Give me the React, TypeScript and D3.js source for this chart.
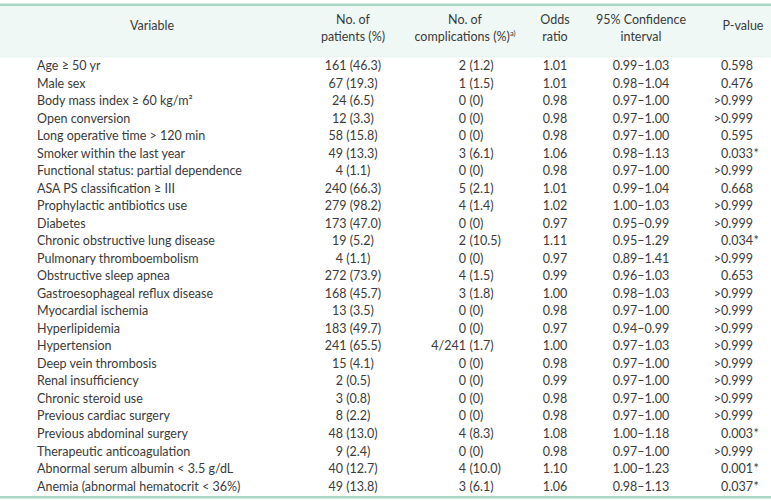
import React from "react";
import * as d3 from "d3";

const variables = [
  "Age ≥ 50 yr",
  "Male sex",
  "Body mass index ≥ 60 kg/m²",
  "Open conversion",
  "Long operative time > 120 min",
  "Smoker within the last year",
  "Functional status: partial dependence",
  "ASA PS classification ≥ III",
  "Prophylactic antibiotics use",
  "Diabetes",
  "Chronic obstructive lung disease",
  "Pulmonary thromboembolism",
  "Obstructive sleep apnea",
  "Gastroesophageal reflux disease",
  "Myocardial ischemia",
  "Hyperlipidemia",
  "Hypertension",
  "Deep vein thrombosis",
  "Renal insufficiency",
  "Chronic steroid use",
  "Previous cardiac surgery",
  "Previous abdominal surgery",
  "Therapeutic anticoagulation",
  "Abnormal serum albumin < 3.5 g/dL",
  "Anemia (abnormal hematocrit < 36%)",
];
const patients = [
  "161 (46.3)", "67 (19.3)", "24 (6.5)", "12 (3.3)", "58 (15.8)", "49 (13.3)", "4 (1.1)",
  "240 (66.3)", "279 (98.2)", "173 (47.0)", "19 (5.2)", "4 (1.1)", "272 (73.9)", "168 (45.7)",
  "13 (3.5)", "183 (49.7)", "241 (65.5)", "15 (4.1)", "2 (0.5)", "3 (0.8)", "8 (2.2)",
  "48 (13.0)", "9 (2.4)", "40 (12.7)", "49 (13.8)",
];
const complicationCounts = [
  "2", "1", "0", "0", "0", "3", "0", "5", "4", "0", "2", "0", "4", "3", "0", "0", "4/241",
  "0", "0", "0", "0", "4", "0", "4", "3",
];
const complicationPcts = [
  "(1.2)", "(1.5)", "(0)", "(0)", "(0)", "(6.1)", "(0)", "(2.1)", "(1.4)", "(0)", "(10.5)", "(0)",
  "(1.5)", "(1.8)", "(0)", "(0)", "(1.7)", "(0)", "(0)", "(0)", "(0)", "(8.3)", "(0)", "(10.0)", "(6.1)",
];
const oddsRatios = [
  "1.01", "1.01", "0.98", "0.98", "0.98", "1.06", "0.98", "1.01", "1.02", "0.97", "1.11", "0.97",
  "0.99", "1.00", "0.98", "0.97", "1.00", "0.98", "0.99", "0.98", "0.98", "1.08", "0.98", "1.10", "1.06",
];
const confidenceIntervals = [
  "0.99–1.03", "0.98–1.04", "0.97–1.00", "0.97–1.00", "0.97–1.00", "0.98–1.13", "0.97–1.00",
  "0.99–1.04", "1.00–1.03", "0.95–0.99", "0.95–1.29", "0.89–1.41", "0.96–1.03", "0.98–1.03",
  "0.97–1.00", "0.94–0.99", "0.97–1.03", "0.97–1.00", "0.97–1.00", "0.97–1.00", "0.97–1.00",
  "1.00–1.18", "0.97–1.00", "1.00–1.23", "0.98–1.13",
];
const pValues = [
  "0.598", "0.476", ">0.999", ">0.999", "0.595", "0.033", ">0.999", "0.668", ">0.999", ">0.999",
  "0.034", ">0.999", "0.653", ">0.999", ">0.999", ">0.999", ">0.999", ">0.999", ">0.999",
  ">0.999", ">0.999", "0.003", ">0.999", "0.001", "0.037",
];
const significant = [
  false, false, false, false, false, true, false, false, false, false, true, false, false, false,
  false, false, false, false, false, false, false, true, false, true, true,
];

const W = 771;
const H = 501;
const FONT = "Lato, 'Open Sans', sans-serif";
const TEXT = "#3a3a3a";
const LINE = "#a9d7c6";
const HEADBG = "#eff8f5";

export default function App() {
  const rows = d3
    .scaleBand<number>()
    .domain(d3.range(variables.length))
    .range([57, 495])
    .paddingInner(0)
    .paddingOuter(0);
  const yc = (i: number) => (rows(i) as number) + rows.bandwidth() / 2;

  const colX = {
    variable: 37,
    variableHead: 152,
    patients: 353,
    compAnchor: 466,
    compHead: 465,
    odds: 555,
    ci: 641,
    pRight: 753,
    pHead: 743,
  };

  const fs = 12.5;

  return (
    <svg
      width={W}
      height={H}
      style={{ position: "absolute", left: 0, top: 0, background: "#fff" }}
      fontFamily={FONT}
      fontSize={fs}
      fill={TEXT}
    >
      <rect x={0} y={4} width={W} height={53} fill={HEADBG} />
      <rect x={0} y={3.5} width={W} height={2.5} fill={LINE} />
      <rect x={0} y={56.5} width={W} height={0.8} fill="#e3f1ec" />
      <rect x={0} y={496} width={W} height={2.5} fill={LINE} />

      {/* header */}
      <text x={colX.variableHead} y={30} textAnchor="middle">Variable</text>
      <text x={colX.patients} y={24} textAnchor="middle">No. of</text>
      <text x={colX.patients} y={41} textAnchor="middle">patients (%)</text>
      <text x={colX.compHead} y={24} textAnchor="middle">No. of</text>
      <text x={colX.compHead} y={41} textAnchor="middle">
        complications (%)
        <tspan fontSize={7.5} dy={-5}>a)</tspan>
      </text>
      <text x={colX.odds} y={24} textAnchor="middle">Odds</text>
      <text x={colX.odds} y={41} textAnchor="middle">ratio</text>
      <text x={colX.ci} y={24} textAnchor="middle">95% Confidence</text>
      <text x={colX.ci} y={41} textAnchor="middle">interval</text>
      <text x={colX.pHead} y={30} textAnchor="middle">P-value</text>

      {variables.map((v, i) => {
        const y = yc(i) + 4.3;
        return (
          <g key={i}>
            <text x={colX.variable} y={y}>{v}</text>
            <text x={colX.patients} y={y} textAnchor="middle">{patients[i]}</text>
            <text x={colX.compAnchor} y={y} textAnchor="end">{complicationCounts[i]}</text>
            <text x={colX.compAnchor + 3.5} y={y}>{complicationPcts[i]}</text>
            <text x={colX.odds} y={y} textAnchor="middle">{oddsRatios[i]}</text>
            <text x={colX.ci} y={y} textAnchor="middle">{confidenceIntervals[i]}</text>
            <text x={colX.pRight} y={y} textAnchor="end">{pValues[i]}</text>
            {significant[i] && <text x={colX.pRight + 0.5} y={y}>*</text>}
          </g>
        );
      })}
    </svg>
  );
}
